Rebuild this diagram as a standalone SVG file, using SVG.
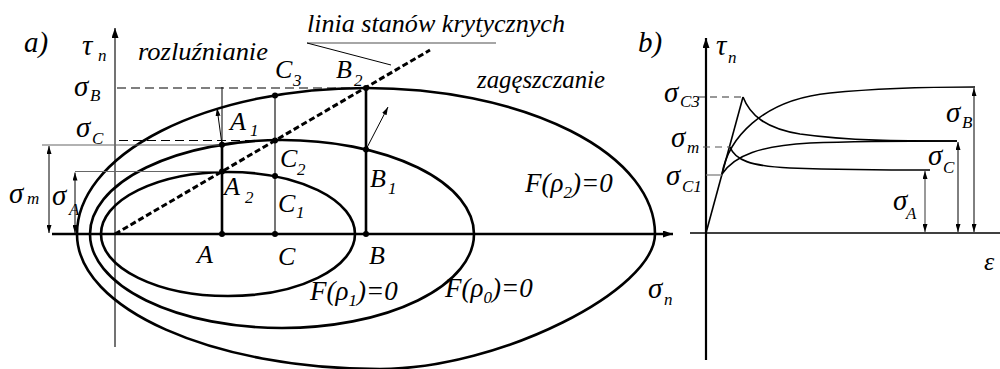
<svg xmlns="http://www.w3.org/2000/svg" width="1000" height="369" viewBox="0 0 1000 369">
<defs>
<marker id="ah" markerUnits="userSpaceOnUse" markerWidth="10" markerHeight="7" refX="10" refY="3.5" orient="auto-start-reverse"><path d="M0,0 L10,3.5 L0,7 z" fill="#000"/></marker>
<marker id="as" markerUnits="userSpaceOnUse" markerWidth="8" markerHeight="5" refX="8" refY="2.5" orient="auto-start-reverse"><path d="M0,0 L8,2.5 L0,5 z" fill="#000"/></marker>
</defs>
<rect width="1000" height="369" fill="#fff"/>

<g id="axes-a">
<line x1="115" y1="347" x2="115" y2="28" stroke="#444" stroke-width="1.5" marker-end="url(#ah)"/>
<line x1="52" y1="234" x2="673" y2="234" stroke="#000" stroke-width="2.6" marker-end="url(#ah)"/>
</g>
<g fill="none" stroke="#000" stroke-width="2.6">
<g id="ellipse-rho2"><path d="M77,234 A289,146 0 0 1 655,234 C655,290 500,369 380,369 C213,369 77,309 77,234 Z"/></g>
<g id="ellipse-rho0"><ellipse cx="282" cy="234" rx="192" ry="94"/></g>
<g id="ellipse-rho1"><ellipse cx="228" cy="234" rx="127" ry="62"/></g>
</g>

<g id="connectors" fill="none">
<line x1="115" y1="234" x2="430" y2="50" stroke="#000" stroke-width="3" stroke-dasharray="6 3"/>
<line x1="307" y1="43" x2="496" y2="43" stroke="#888" stroke-width="1.5"/>
<line x1="307" y1="43" x2="391" y2="65" stroke="#000" stroke-width="1"/>
<g stroke="#000" stroke-width="1.2" stroke-dasharray="9 5">
<line x1="117" y1="88" x2="366" y2="88"/>
<line x1="119" y1="140.5" x2="275" y2="140.5"/>
</g>
<g stroke="#666" stroke-width="1.2">
<line x1="42" y1="145" x2="222" y2="145"/>
<line x1="75" y1="171.5" x2="222" y2="171.5"/>
</g>
<g stroke="#000" stroke-width="1" marker-start="url(#as)" marker-end="url(#as)">
<line x1="49" y1="146" x2="49" y2="233"/>
<line x1="75" y1="172.5" x2="75" y2="233"/>
</g>
<line x1="222" y1="87" x2="222" y2="144.7" stroke="#000" stroke-width="1"/>
<line x1="222" y1="144.7" x2="222" y2="234" stroke="#000" stroke-width="2.6"/>
<line x1="275" y1="95.4" x2="275" y2="234" stroke="#666" stroke-width="1.8"/>
<line x1="366" y1="88" x2="366" y2="234" stroke="#000" stroke-width="2.6"/>
<g stroke="#000" stroke-width="1" marker-end="url(#as)">
<line x1="222" y1="144.7" x2="217" y2="108"/>
<line x1="366" y1="149.5" x2="388" y2="107"/>
</g>
</g>

<g id="points" fill="#000">
<circle cx="222" cy="234" r="3"/>
<circle cx="275" cy="234" r="3"/>
<circle cx="366" cy="234" r="3"/>
<circle cx="222" cy="171.5" r="3"/>
<circle cx="222" cy="144.7" r="3"/>
<circle cx="275" cy="176" r="3"/>
<circle cx="275" cy="140.5" r="3"/>
<circle cx="275" cy="95.4" r="3"/>
<circle cx="366" cy="149.5" r="3"/>
<circle cx="366" cy="88" r="3"/>
</g>

<g id="labels-a" font-family="Times New Roman, Liberation Serif, DejaVu Serif, serif" font-style="italic" fill="#000">
<text font-size="29" x="24" y="52">a)</text>
<text x="82" y="55"><tspan font-size="29">τ</tspan><tspan font-size="17" x="98" y="61">n</tspan></text>
<text font-size="25" x="138" y="60" textLength="130" lengthAdjust="spacingAndGlyphs">rozluźnianie</text>
<text font-size="25" x="307" y="32" textLength="258" lengthAdjust="spacingAndGlyphs">linia stanów krytycznych</text>
<text font-size="25" x="477" y="88" textLength="128" lengthAdjust="spacingAndGlyphs">zagęszczanie</text>
<text x="74" y="96"><tspan font-size="29">σ</tspan><tspan font-size="17" x="90" y="101">B</tspan></text>
<text x="76" y="137"><tspan font-size="29">σ</tspan><tspan font-size="17" x="92" y="144">C</tspan></text>
<text x="9" y="203"><tspan font-size="29">σ</tspan><tspan font-size="17" x="27" y="204">m</tspan></text>
<text x="52" y="205"><tspan font-size="29">σ</tspan><tspan font-size="17" x="69" y="215">A</tspan></text>
<text x="275" y="78"><tspan font-size="26">C</tspan><tspan font-size="17" x="293" y="86">3</tspan></text>
<text x="336" y="78"><tspan font-size="26">B</tspan><tspan font-size="17" x="354" y="86">2</tspan></text>
<text x="230" y="130"><tspan font-size="26">A</tspan><tspan font-size="17" x="250" y="136">1</tspan></text>
<text x="280" y="167"><tspan font-size="26">C</tspan><tspan font-size="17" x="297" y="175">2</tspan></text>
<text x="224" y="195"><tspan font-size="26">A</tspan><tspan font-size="17" x="245" y="203">2</tspan></text>
<text x="278" y="212"><tspan font-size="26">C</tspan><tspan font-size="17" x="296" y="218">1</tspan></text>
<text x="370" y="187"><tspan font-size="26">B</tspan><tspan font-size="17" x="388" y="194">1</tspan></text>
<text font-size="26" x="197" y="263">A</text>
<text font-size="26" x="278" y="265">C</text>
<text font-size="26" x="369" y="264">B</text>
<text x="525" y="192" font-size="27"><tspan>F(ρ</tspan><tspan font-size="17" dy="6">2</tspan><tspan dy="-6">)=0</tspan></text>
<text x="310" y="300" font-size="27"><tspan>F(ρ</tspan><tspan font-size="17" dy="6">1</tspan><tspan dy="-6">)=0</tspan></text>
<text x="445" y="297" font-size="27"><tspan>F(ρ</tspan><tspan font-size="17" dy="6">0</tspan><tspan dy="-6">)=0</tspan></text>
<text x="648" y="298"><tspan font-size="29">σ</tspan><tspan font-size="17" x="664" y="305">n</tspan></text>
</g>

<g id="axes-b">
<line x1="706" y1="360" x2="706" y2="38" stroke="#000" stroke-width="2.2" marker-end="url(#ah)"/>
<line x1="690" y1="233" x2="1000" y2="233" stroke="#000" stroke-width="1.5"/>
</g>
<g id="curves-b" fill="none" stroke="#000" stroke-width="1.6">
<line x1="706" y1="233" x2="743" y2="97"/>
<path d="M722,174 C728,140 760,100 830,93 C880,88 940,87 975,87"/>
<path d="M743,97 C750,115 765,128 800,134 C850,141 900,141 957,141"/>
<path d="M722,174 C735,155 760,146 810,143 C860,141 900,141 957,141"/>
<path d="M730,147 C735,160 750,166 790,168 C850,170 900,170 930,170"/>
</g>
<g id="connectors-b" fill="none">
<line x1="698" y1="97" x2="743" y2="97" stroke="#333" stroke-width="1.2" stroke-dasharray="7 5"/>
<line x1="703" y1="147" x2="730" y2="147" stroke="#555" stroke-width="1.2" stroke-dasharray="7 5"/>
<line x1="706" y1="175" x2="722" y2="175" stroke="#777" stroke-width="1.2"/>
<line x1="925" y1="171" x2="925" y2="232" stroke="#555" stroke-width="1.2" marker-start="url(#as)" marker-end="url(#as)"/>
<line x1="958" y1="142" x2="958" y2="232" stroke="#000" stroke-width="1" marker-start="url(#as)" marker-end="url(#as)"/>
<line x1="974" y1="88" x2="974" y2="232" stroke="#000" stroke-width="1" marker-start="url(#as)" marker-end="url(#as)"/>
</g>
<g id="labels-b" font-family="Times New Roman, Liberation Serif, DejaVu Serif, serif" font-style="italic" fill="#000">
<text x="638" y="52" font-size="29">b)</text>
<text x="716" y="55"><tspan font-size="29">τ</tspan><tspan font-size="17" x="728" y="63">n</tspan></text>
<text x="664" y="102"><tspan font-size="29">σ</tspan><tspan font-size="17" x="680" y="107">C3</tspan></text>
<text x="671" y="147"><tspan font-size="29">σ</tspan><tspan font-size="17" x="687" y="153">m</tspan></text>
<text x="666" y="185"><tspan font-size="29">σ</tspan><tspan font-size="17" x="682" y="192">C1</tspan></text>
<text x="946" y="122"><tspan font-size="29">σ</tspan><tspan font-size="17" x="962" y="128">B</tspan></text>
<text x="928" y="165"><tspan font-size="29">σ</tspan><tspan font-size="17" x="943" y="173">C</tspan></text>
<text x="893" y="210"><tspan font-size="29">σ</tspan><tspan font-size="17" x="906" y="219">A</tspan></text>
<text font-size="26" x="984" y="270">ε</text>
</g>
</svg>
